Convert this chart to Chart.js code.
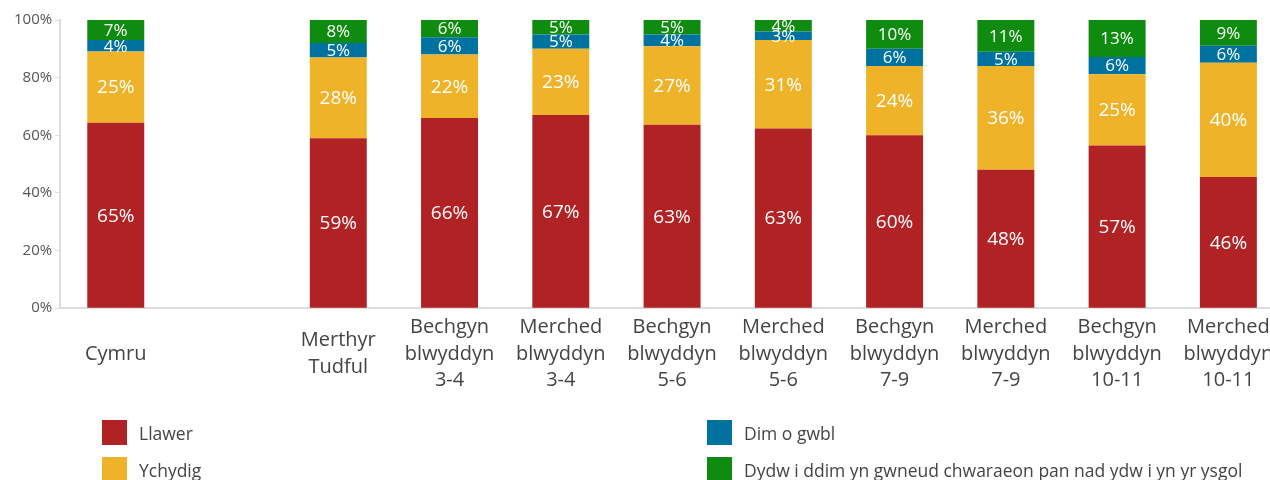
<!DOCTYPE html>
<html lang="cy">
<head>
<meta charset="utf-8">
<title>Chwaraeon y tu allan i'r ysgol</title>
<script src="https://cdn.jsdelivr.net/npm/chart.js@4"></script>
<style>
  html, body { margin: 0; padding: 0; background: #fff; overflow: hidden; }
  body { width: 1270px; height: 480px; position: relative; font-family: "Open Sans", sans-serif; }
  #wrap { position: absolute; left: 0; top: 0; width: 1284px; height: 413px; }
  #legend { position: absolute; left: 0; top: 0; width: 1270px; height: 480px; pointer-events: none; }
  .item { position: absolute; display: flex; align-items: center; height: 25px; font-size: 17.5px; color: #444; white-space: nowrap; }
  .item span.box { width: 25px; height: 25px; margin-right: 12px; flex: none; }
</style>
</head>
<body>
<div id="wrap"><canvas id="chart"></canvas></div>
<div id="legend"></div>
<script>
// Categories (empty slot keeps the gap after Cymru)
const categories = [
  "Cymru",
  "",
  ["Merthyr", "Tudful"],
  ["Bechgyn", "blwyddyn", "3-4"],
  ["Merched", "blwyddyn", "3-4"],
  ["Bechgyn", "blwyddyn", "5-6"],
  ["Merched", "blwyddyn", "5-6"],
  ["Bechgyn", "blwyddyn", "7-9"],
  ["Merched", "blwyddyn", "7-9"],
  ["Bechgyn", "blwyddyn", "10-11"],
  ["Merched", "blwyddyn", "10-11"],
];

// Percentages as labelled on the bars
const llawer   = [65, null, 59, 66, 67, 63, 63, 60, 48, 57, 46];
const ychydig  = [25, null, 28, 22, 23, 27, 31, 24, 36, 25, 40];
const dimGwbl  = [4,  null, 5,  6,  5,  4,  3,  6,  5,  6,  6];
const dimYsgol = [7,  null, 8,  6,  5,  5,  4,  10, 11, 13, 9];

const yTicks = [0, 20, 40, 60, 80, 100];

const seriesNames = [
  "Llawer",
  "Ychydig",
  "Dim o gwbl",
  "Dydw i ddim yn gwneud chwaraeon pan nad ydw i yn yr ysgol",
];
const seriesColors = ["#b12224", "#efb329", "#00729f", "#0f8c0f"];
const seriesValues = [llawer, ychydig, dimGwbl, dimYsgol];

// each bar is scaled to a 100% total
const totals = categories.map((_, i) =>
  seriesValues.reduce((s, arr) => s + (arr[i] || 0), 0));

const datasets = seriesValues.map((vals, k) => ({
  label: seriesNames[k],
  data: vals.map((v, i) => (v == null ? null : (v / totals[i]) * 100)),
  raw: vals,
  backgroundColor: seriesColors[k],
  borderWidth: 0,
  categoryPercentage: 0.512,
  barPercentage: 1,
}));

// white percentage labels in the middle of each segment
const segmentLabels = {
  id: "segmentLabels",
  afterDatasetsDraw(chart) {
    const ctx = chart.ctx;
    ctx.save();
    ctx.fillStyle = "#fff";
    ctx.textAlign = "center";
    ctx.textBaseline = "middle";
    chart.data.datasets.forEach((ds, di) => {
      chart.getDatasetMeta(di).data.forEach((bar, i) => {
        const v = ds.raw[i];
        if (v == null) return;
        const size = v < 15 ? 17 : 19;
        ctx.font = size + 'px "Open Sans"';
        ctx.fillText(v + "%", bar.x, (bar.y + bar.base) / 2 + 1);
      });
    });
    ctx.restore();
  },
};

const chart = new Chart(document.getElementById("chart"), {
  type: "bar",
  data: { labels: categories, datasets },
  plugins: [segmentLabels],
  options: {
    responsive: true,
    maintainAspectRatio: false,
    animation: false,
    layout: { padding: { left: 11, top: 20, right: 0, bottom: 0 } },
    plugins: { legend: { display: false }, tooltip: { enabled: false } },
    scales: {
      x: {
        stacked: true,
        // invisible tick marks just push the labels down
        grid: { drawOnChartArea: false, drawTicks: true, tickLength: 13, color: "rgba(0,0,0,0)" },
        border: { color: "#ddd", width: 2 },
        ticks: {
          color: "#444",
          font: { family: "Open Sans", size: 20, lineHeight: 1.33 },
          padding: 6,
          maxRotation: 0,
          autoSkip: false,
          crossAlign: "center",
        },
      },
      y: {
        stacked: true,
        min: 0,
        max: 100,
        afterBuildTicks: (axis) => { axis.ticks = yTicks.map((v) => ({ value: v })); },
        grid: { drawOnChartArea: false, drawTicks: true, tickLength: 5, color: "#ddd" },
        border: { color: "#ddd", width: 2 },
        ticks: {
          color: "#555",
          font: { family: "Open Sans", size: 15 },
          padding: 3,
          callback: (v) => v + "%",
        },
      },
    },
  },
});

// two-column legend under the chart
const legendPos = [
  { left: 102, top: 420 },
  { left: 102, top: 457 },
  { left: 707, top: 420 },
  { left: 707, top: 457 },
];
const legend = document.getElementById("legend");
chart.data.datasets.forEach((ds, k) => {
  const item = document.createElement("div");
  item.className = "item";
  item.style.left = legendPos[k].left + "px";
  item.style.top = legendPos[k].top + "px";
  item.innerHTML = `<span class="box" style="background:${ds.backgroundColor}"></span>${ds.label}`;
  legend.appendChild(item);
});
</script>
</body>
</html>
